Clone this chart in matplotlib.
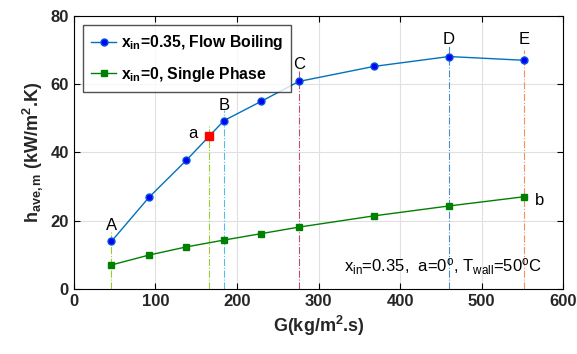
import numpy as np
import matplotlib
matplotlib.use('Agg')
import matplotlib.pyplot as plt

plt.rcParams['font.family'] = ['Liberation Sans', 'DejaVu Sans']
plt.rcParams['mathtext.fontset'] = 'custom'
plt.rcParams['mathtext.rm'] = 'Liberation Sans'
plt.rcParams['mathtext.it'] = 'Liberation Sans:italic'
plt.rcParams['mathtext.bf'] = 'Liberation Sans:bold'

# mass flux G (kg/m2.s)
G = [46, 92, 138, 184, 230, 276, 368, 460, 552]
# h_ave,m (kW/m2.K)
h_boil = [13.9, 26.8, 37.7, 49.3, 55.0, 60.8, 65.2, 68.1, 67.0]
h_single = [7.0, 9.9, 12.3, 14.3, 16.2, 18.1, 21.4, 24.3, 27.0]

# point a (onset marker)
G_a, h_a = 166, 44.8

# guide lines: label, G, h at point, colour
marks = ['A', 'a', 'B', 'C', 'D', 'E']
mark_G = [46, 166, 184, 276, 460, 552]
mark_h = [13.9, 44.8, 49.3, 60.8, 68.1, 67.0]
mark_col = ['#9acd32', '#9acd32', '#4dbeee', '#c05070', '#4a90c8', '#f4905a']

fig = plt.figure(figsize=(5.77, 3.54), dpi=100)
ax = fig.add_axes([0.128, 0.184, 0.848, 0.771])

ax.grid(True, color='#e0e0e0', lw=0.8)
ax.set_axisbelow(True)

for lab, gx, hy, c in zip(marks, mark_G, mark_h, mark_col):
    ax.plot([gx, gx], [0, hy + 3], ls='-.', lw=0.8, color=c, zorder=1)

ax.plot(G, h_boil, '-o', color='#0072BD', lw=1, mfc='blue', mec='#0055dd', ms=5,
        label=r'x$_\mathbf{in}$=0.35, Flow Boiling', zorder=3)
ax.plot(G, h_single, '-s', color='#008000', lw=1, mfc='green', mec='green', ms=4.5,
        label=r'x$_\mathbf{in}$=0, Single Phase', zorder=3)
ax.plot([G_a], [h_a], 's', color='red', ms=6, zorder=4)

# point labels
ax.text(46, 16.5, 'A', ha='center', va='bottom', fontsize=12)
ax.text(146, 45.5, 'a', ha='center', va='center', fontsize=12)
ax.text(184, 51.5, 'B', ha='center', va='bottom', fontsize=12)
ax.text(276, 63.5, 'C', ha='center', va='bottom', fontsize=12)
ax.text(460, 71, 'D', ha='center', va='bottom', fontsize=12)
ax.text(552, 71, 'E', ha='center', va='bottom', fontsize=12)
ax.text(565, 26, 'b', ha='left', va='center', fontsize=12)

ax.text(574, 6.5, r'x$_{\mathrm{in}}$=0.35,  a=0$^{\mathrm{o}}$, T$_{\mathrm{wall}}$=50$^{\mathrm{o}}$C',
        ha='right', va='center', fontsize=12)

ax.set_xlim(0, 600)
ax.set_ylim(0, 80)
ax.set_xticks(np.arange(0, 601, 100))
ax.set_yticks(np.arange(0, 81, 20))
ax.tick_params(direction='in', top=True, right=True, length=4, labelsize=12)
for t in ax.get_xticklabels() + ax.get_yticklabels():
    t.set_fontweight('bold')
    t.set_color('#262626')

ax.set_xlabel(r'G(kg/m$^\mathbf{2}$.s)', fontsize=13, fontweight='bold', color='#262626')
ax.set_ylabel(r'h$_\mathbf{ave,m}$ (kW/m$^\mathbf{2}$.K)', fontsize=13, fontweight='bold',
              color='#262626')

leg = ax.legend(loc='upper left', frameon=True, fancybox=False,
                edgecolor='#262626', handlelength=1.6, handletextpad=0.3,
                labelspacing=0.8, borderpad=0.5, borderaxespad=0.6,
                prop={'weight': 'bold', 'size': 11.3})
leg.get_frame().set_linewidth(1)

fig.savefig('out.png', dpi=100)
